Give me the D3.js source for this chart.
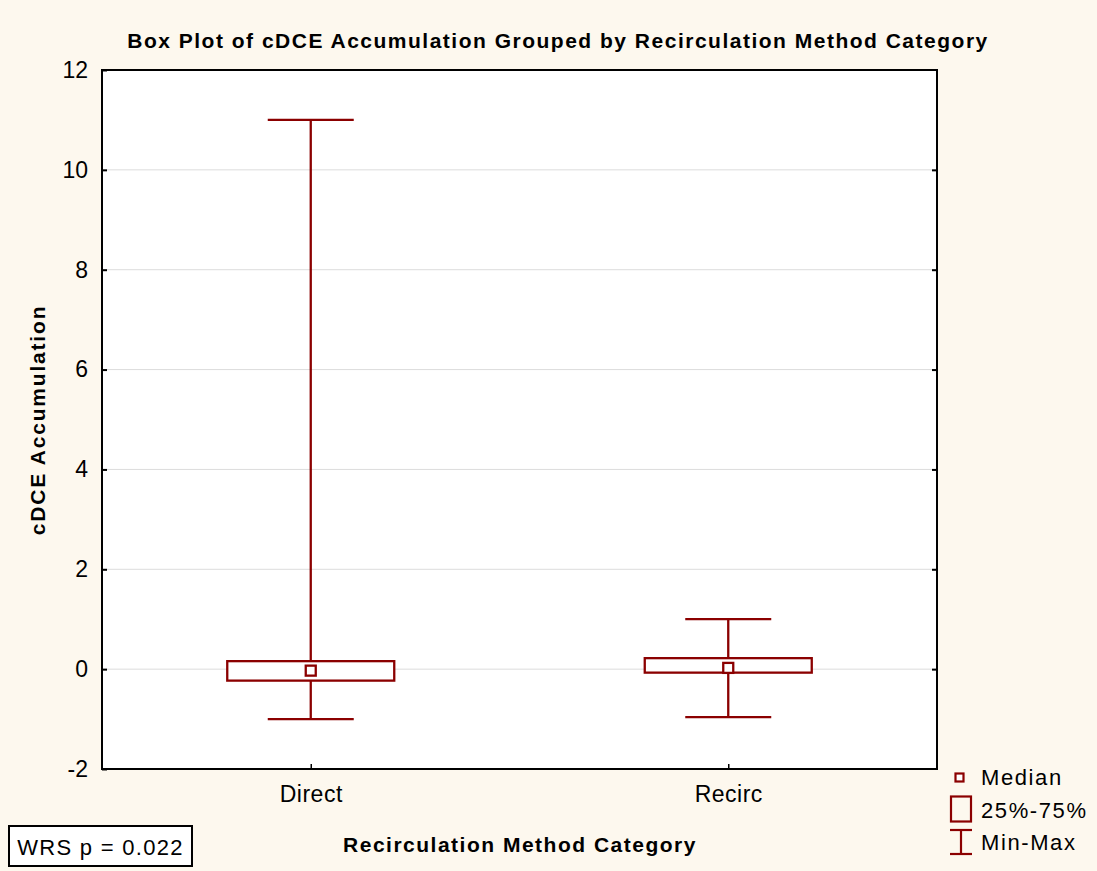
<!DOCTYPE html>
<html><head><meta charset="utf-8">
<script src="https://cdn.jsdelivr.net/npm/d3@7"></script>
<style>
html,body{margin:0;padding:0;background:#fdf8ee;}
svg{display:block;font-family:"Liberation Sans",Arial,sans-serif;}
</style></head>
<body>
<svg id="chart" width="1097" height="871"></svg>
<script>
const categories = ["Direct", "Recirc"];
const minValues = [-1.0, -0.96];
const q1Values = [-0.23, -0.07];
const medianValues = [-0.03, 0.025];
const q3Values = [0.16, 0.22];
const maxValues = [11.0, 1.0];
const yTicks = [-2, 0, 2, 4, 6, 8, 10, 12];

const color = "#8b0000";
const FONT = "Liberation Sans, Arial, sans-serif";
const svg = d3.select("#chart");
const W = 1097, H = 871;
const m = {left: 102, right: 937, top: 70, bottom: 769};

svg.append("rect").attr("width", W).attr("height", H).attr("fill", "#fdf8ee");
svg.append("rect").attr("x", m.left).attr("y", m.top)
  .attr("width", m.right - m.left).attr("height", m.bottom - m.top).attr("fill", "#fff");

const x = d3.scalePoint().domain(categories).range([m.left, m.right]).padding(0.5);
const y = d3.scaleLinear().domain([-2, 12]).range([m.bottom, m.top]);
const plotW = m.right - m.left;

// gridlines
svg.append("g").selectAll("line").data(yTicks.filter(t => t > -2 && t < 12)).join("line")
  .attr("x1", m.left).attr("x2", m.right)
  .attr("y1", d => y(d)).attr("y2", d => y(d))
  .attr("stroke", "#dcdcdc").attr("stroke-width", 1);

// axes
const yAxisL = d3.axisLeft(y).tickValues(yTicks).tickSize(-5).tickPadding(14).tickFormat(d => String(d));
const gL = svg.append("g").attr("transform", `translate(${m.left},0)`).call(yAxisL);
gL.select(".domain").remove();
gL.selectAll("text").attr("font-size", 23).attr("fill", "#000").attr("font-family", FONT);
gL.selectAll("line").attr("stroke", "#000").attr("stroke-width", 2);

const yAxisR = d3.axisRight(y).tickValues(yTicks.filter(t => t > -2 && t < 12)).tickSize(-5).tickFormat("");
const gR = svg.append("g").attr("transform", `translate(${m.right},0)`).call(yAxisR);
gR.select(".domain").remove();
gR.selectAll("line").attr("stroke", "#000").attr("stroke-width", 2);

const xAxis = d3.axisBottom(x).tickSize(-5).tickPadding(17);
const gX = svg.append("g").attr("transform", `translate(0,${m.bottom})`).call(xAxis);
gX.select(".domain").remove();
gX.selectAll("text").attr("font-size", 23).attr("letter-spacing", 0.5).attr("fill", "#000").attr("font-family", FONT);
gX.selectAll("line").attr("stroke", "#000").attr("stroke-width", 1.5);

// frame
svg.append("rect").attr("x", m.left).attr("y", m.top)
  .attr("width", m.right - m.left).attr("height", m.bottom - m.top)
  .attr("fill", "none").attr("stroke", "#000").attr("stroke-width", 2);

// boxes
const boxW = plotW * 0.2;
const capW = plotW * 0.103;
const data = categories.map((c, i) => ({c, min: minValues[i], q1: q1Values[i], med: medianValues[i], q3: q3Values[i], max: maxValues[i]}));
const g = svg.append("g").attr("stroke", color).attr("stroke-width", 2.3).attr("fill", "none");
data.forEach(d => {
  const cx = x(d.c);
  g.append("line").attr("x1", cx).attr("x2", cx).attr("y1", y(d.max)).attr("y2", y(d.q3));
  g.append("line").attr("x1", cx).attr("x2", cx).attr("y1", y(d.q1)).attr("y2", y(d.min));
  g.append("line").attr("x1", cx - capW/2).attr("x2", cx + capW/2).attr("y1", y(d.max)).attr("y2", y(d.max));
  g.append("line").attr("x1", cx - capW/2).attr("x2", cx + capW/2).attr("y1", y(d.min)).attr("y2", y(d.min));
  g.append("rect").attr("x", cx - boxW/2).attr("y", y(d.q3)).attr("width", boxW).attr("height", y(d.q1) - y(d.q3)).attr("fill", "#fff");
  g.append("rect").attr("x", cx - 5).attr("y", y(d.med) - 5).attr("width", 10).attr("height", 10).attr("fill", "#fff");
});

// title & labels
svg.append("text").attr("x", 558).attr("y", 48).attr("text-anchor", "middle")
  .attr("font-size", 21).attr("letter-spacing", 1.5).attr("font-weight", "bold")
  .text("Box Plot of cDCE Accumulation Grouped by Recirculation Method Category");
svg.append("text").attr("transform", "translate(45,420) rotate(-90)").attr("text-anchor", "middle")
  .attr("font-size", 21).attr("letter-spacing", 1.8).attr("font-weight", "bold").text("cDCE Accumulation");
svg.append("text").attr("x", 520).attr("y", 852).attr("text-anchor", "middle")
  .attr("font-size", 21).attr("letter-spacing", 1.5).attr("font-weight", "bold").text("Recirculation Method Category");

// WRS box
svg.append("rect").attr("x", 9).attr("y", 826).attr("width", 183).attr("height", 40)
  .attr("fill", "#fff").attr("stroke", "#000").attr("stroke-width", 2);
svg.append("text").attr("x", 100.5).attr("y", 855).attr("text-anchor", "middle")
  .attr("font-size", 22).attr("letter-spacing", 1.3).text("WRS p = 0.022");

// legend
const lg = svg.append("g");
lg.append("rect").attr("x", 955.5).attr("y", 773.5).attr("width", 8).attr("height", 8)
  .attr("fill", "#fff").attr("stroke", color).attr("stroke-width", 2.2);
lg.append("rect").attr("x", 951).attr("y", 796.5).attr("width", 20).attr("height", 25)
  .attr("fill", "none").attr("stroke", color).attr("stroke-width", 2.2);
lg.append("line").attr("x1", 961).attr("x2", 961).attr("y1", 830).attr("y2", 854).attr("stroke", color).attr("stroke-width", 2.2);
lg.append("line").attr("x1", 950).attr("x2", 972).attr("y1", 830).attr("y2", 830).attr("stroke", color).attr("stroke-width", 2.2);
lg.append("line").attr("x1", 950).attr("x2", 972).attr("y1", 854).attr("y2", 854).attr("stroke", color).attr("stroke-width", 2.2);
[["Median", 785], ["25%-75%", 818], ["Min-Max", 850]].forEach(([t, yy]) => {
  lg.append("text").attr("x", 981).attr("y", yy).attr("font-size", 22).attr("letter-spacing", 1.6).attr("fill", "#000").text(t);
});
</script>
</body></html>
